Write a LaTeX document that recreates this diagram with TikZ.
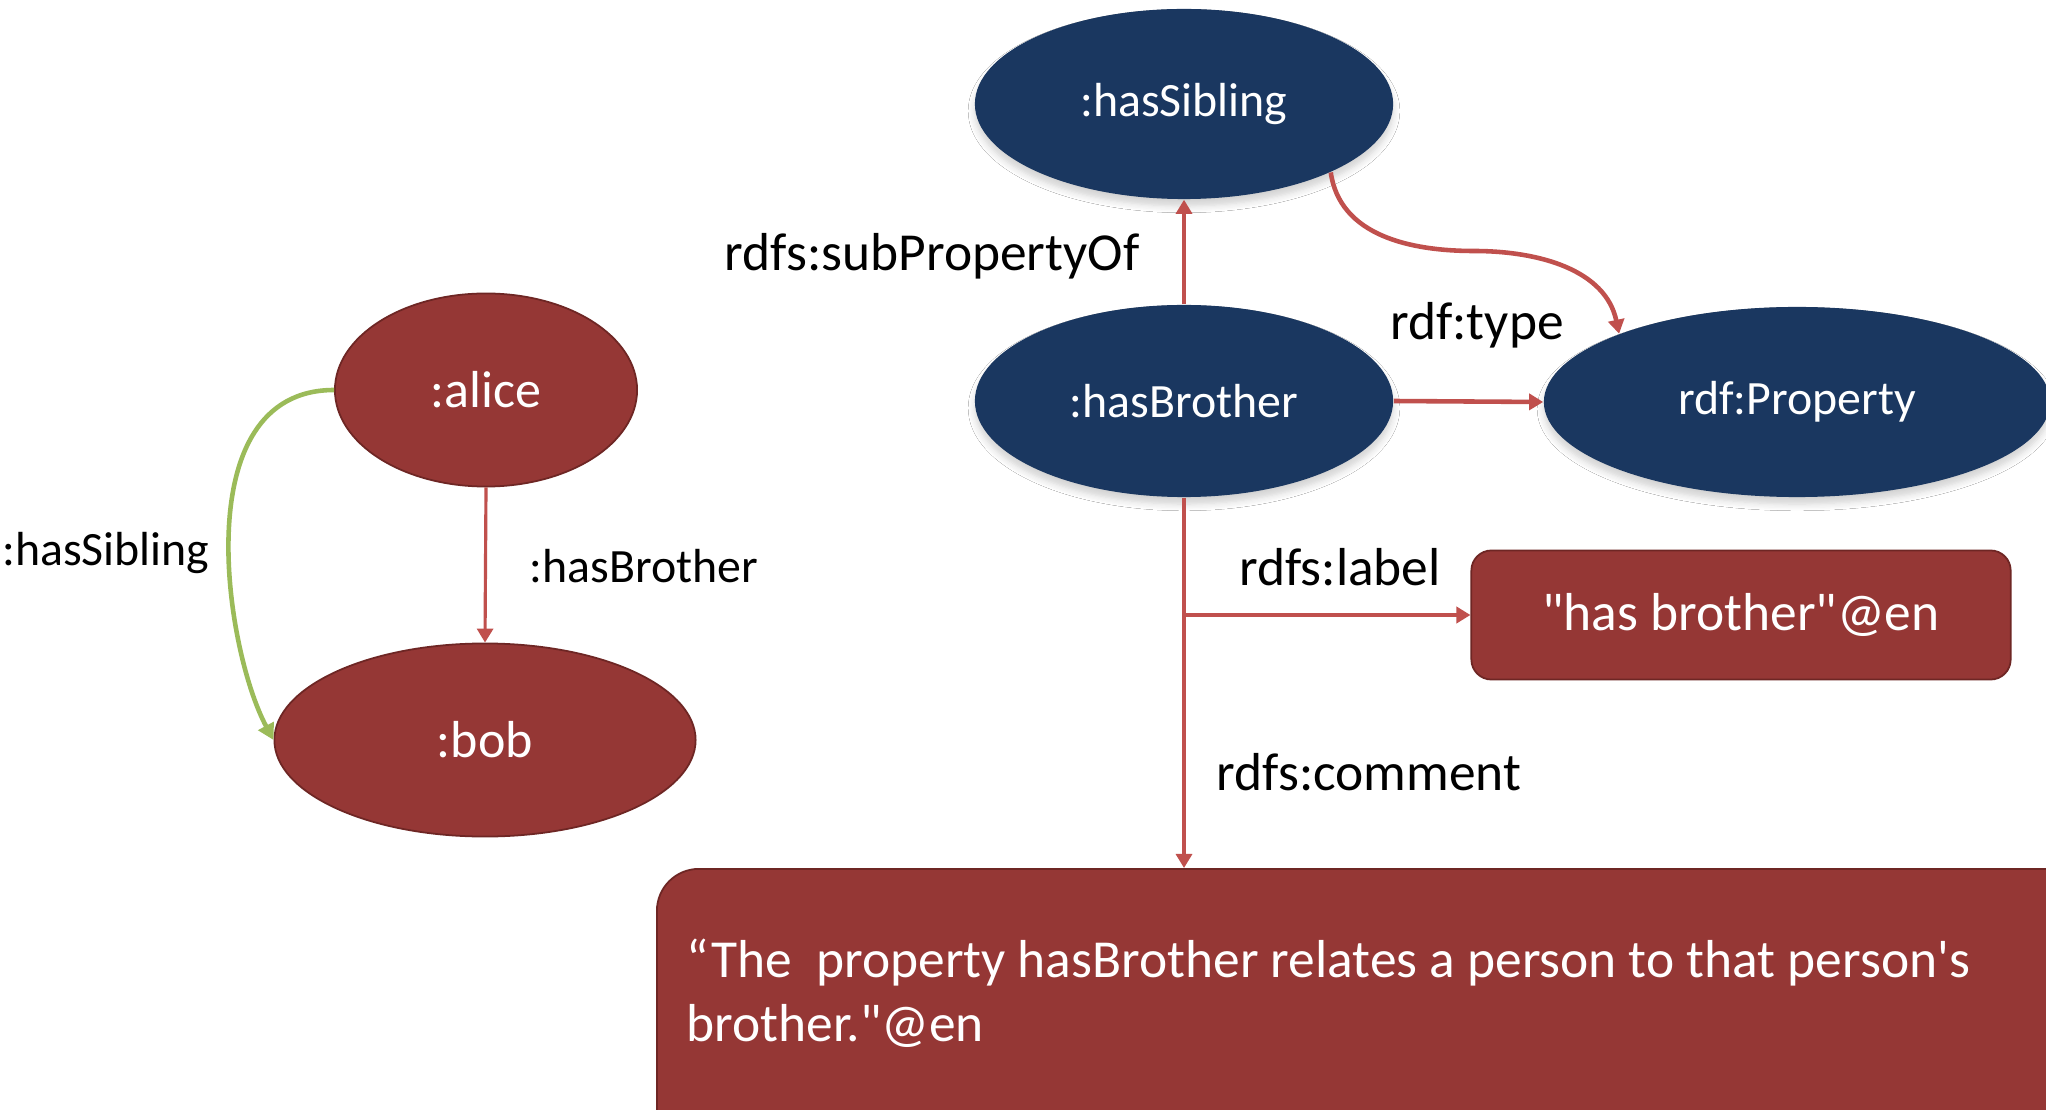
\documentclass[tikz,border=0pt]{standalone}
\usepackage{fontspec}
\setmainfont{Carlito}[Ligatures=TeXOff]
\usetikzlibrary{arrows.meta,shapes.geometric,shadows.blur}

\definecolor{navy}{HTML}{1A3760}
\definecolor{wine}{HTML}{953735}
\definecolor{wineedge}{HTML}{6E2624}
\definecolor{linkred}{HTML}{C0504D}
\definecolor{linkgreen}{HTML}{9BBB59}

\tikzset{
  txtS/.style={font=\fontsize{13.6}{16.5}\selectfont},
  txtM/.style={font=\fontsize{14.8}{17.5}\selectfont},
  txtL/.style={font=\fontsize{15.2}{18.3}\selectfont},
  classnode/.style={ellipse, fill=navy, draw=none, text=white, txtS, inner sep=0pt,
    blur shadow={shadow xshift=0pt, shadow yshift=-0.07cm, shadow blur steps=6, shadow opacity=18}},
  instnode/.style={ellipse, fill=wine, draw=wineedge, line width=0.5pt, text=white, txtM, inner sep=0pt},
  litbox/.style={rectangle, fill=wine, draw=wineedge, line width=0.5pt, text=white, txtL, inner sep=0pt},
  edgelabel/.style={txtL, text=black, inner sep=0pt},
  link/.style={draw=linkred, line width=0.9pt, -{Triangle[length=0.14cm, width=0.16cm]}},
  thicklink/.style={draw=linkred, line width=1.3pt, -{Triangle[length=0.14cm, width=0.16cm]}},
  greenlink/.style={draw=linkgreen, line width=1.3pt, -{Triangle[length=0.16cm, width=0.17cm]}},
}

\begin{document}
\begin{tikzpicture}[x=0.01cm, y=-0.01cm]
  \clip (0,0) rectangle (2046,1110);
  \fill[white] (0,0) rectangle (2046,1110);

  % instance nodes
  \node[instnode, minimum width=3.02cm, minimum height=1.93cm] (alice) at (486,390) {:alice};
  \node[instnode, minimum width=4.21cm, minimum height=1.93cm] (bob) at (485,740) {:bob};

  % property / class nodes
  \node[classnode, minimum width=4.18cm, minimum height=1.90cm] (sib) at (1184,104) {:hasSibling};
  \node[classnode, minimum width=4.18cm, minimum height=1.92cm] (hb) at (1184,401) {:hasBrother};
  \node[classnode, minimum width=5.06cm, minimum height=1.90cm] (prop) at (1797,402) {rdf:Property};

  % literal boxes
  \node[litbox, rounded corners=0.2cm, minimum width=5.39cm, minimum height=1.29cm] (lbox) at (1741,615) {"has brother"@en};
  \node[litbox, rounded corners=0.42cm, anchor=north west, minimum width=15cm, minimum height=3cm] (cbox) at (656,868) {};
  \node[txtL, text=white, anchor=west, align=left, inner sep=0pt] (ctext) at (686,993)
    {“The\ \ property hasBrother relates a person to that person's\\brother."@en};

  % edges on the left
  \draw[link] (alice.south) -- (bob.north);
  \draw[greenlink] (alice.west) .. controls (185,390) and (225,650) .. (bob.west);

  % edges on the right
  \draw[link] (hb.north) -- (sib.south);
  \draw[thicklink] (hb.east) -- (prop.west);
  \coordinate (bend) at (1474,251);
  \draw[link, line width=1.3pt] (sib.-25) to[out=-82, in=180] (bend) to[out=0, in=102] (prop.159);
  \draw[link] (hb.south) -- (hb.south |- cbox.north);
  \draw[thicklink] (hb.south |- lbox.west) -- (lbox.west);

  % edge labels
  \node[edgelabel, txtS] (lsib) at (106,553) {:hasSibling};
  \node[edgelabel, txtS] (lhb) at (644,566) {:hasBrother};
  \node[edgelabel] (lsub) at (932,256) {rdfs:subPropertyOf};
  \node[edgelabel] (ltype) at (1477,325) {rdf:type};
  \node[edgelabel] (llabel) at (1340,567) {rdfs:label};
  \node[edgelabel] (lcomment) at (1369,772) {rdfs:comment};
\end{tikzpicture}
\end{document}
